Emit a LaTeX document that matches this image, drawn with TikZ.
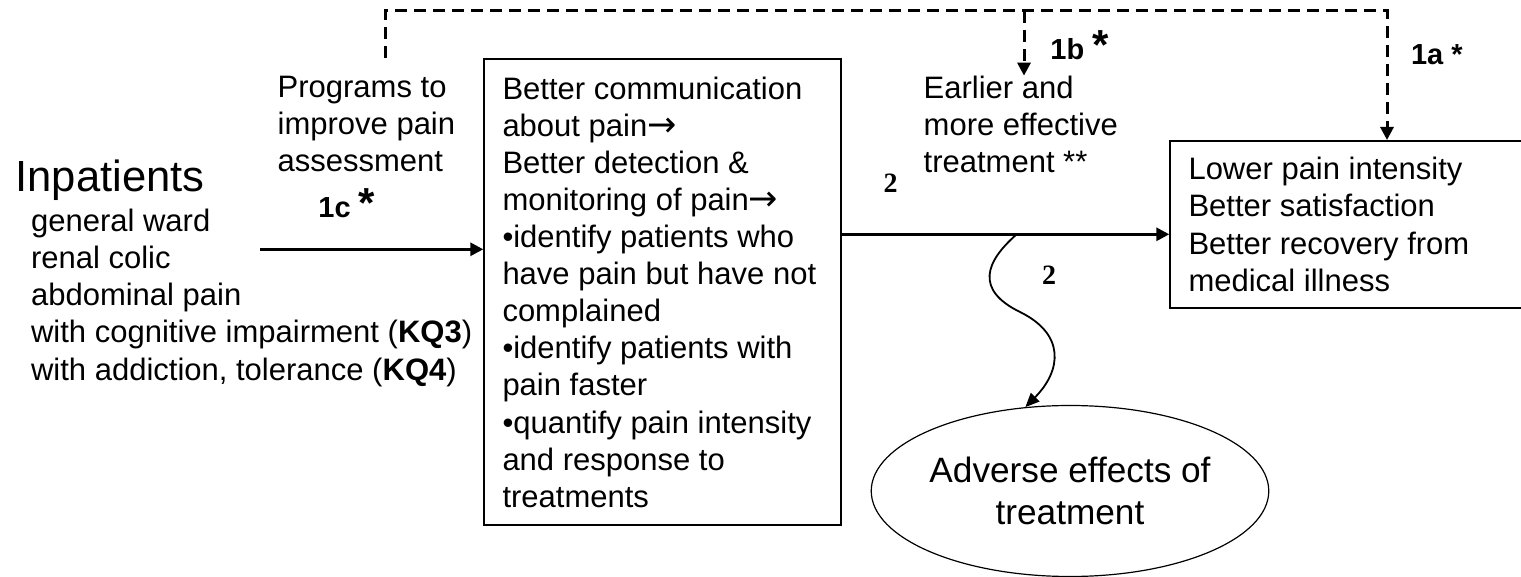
\documentclass[tikz,border=0pt]{standalone}
\usepackage{fontspec}
\setmainfont{Liberation Sans}
\newfontfamily\numfont{Liberation Serif}
\newfontfamily\symfont{DejaVu Sans}
\usetikzlibrary{arrows.meta, shapes.geometric, calc}
\newcommand\bodyfs{\fontsize{15.5pt}{18.55pt}\selectfont}
\newcommand\bigfs{\fontsize{21.8pt}{26pt}\selectfont}
\newcommand\ovalfs{\fontsize{17.6pt}{21.15pt}\selectfont}
\newcommand\kqfs{\fontsize{14.5pt}{17pt}\selectfont\bfseries}
\newcommand\starfs{\fontsize{21pt}{21pt}\selectfont}
\newcommand\rarr{{\symfont\fontsize{17.5pt}{18.55pt}\selectfont →}}
\tikzset{
  >={Triangle[length=6.5pt,width=6.5pt]},
  txt/.style={inner sep=0pt, anchor=base west, align=flush left, font=\bodyfs},
  kq/.style={inner sep=0pt, anchor=base west, font=\kqfs},
  num/.style={inner sep=0pt, anchor=base west, font=\numfont\bfseries\fontsize{14pt}{14pt}\selectfont},
  stage/.style={draw, line width=0.8pt, anchor=north west, inner xsep=9.2pt,
    inner ysep=0pt, align=flush left, font=\bodyfs},
  effect/.style={draw, ellipse, line width=0.6pt, inner sep=0pt, align=center, font=\ovalfs},
  mainarr/.style={->, line width=1.5pt},
  fb/.style={->, line width=1.5pt, dash pattern=on 6pt off 3.5pt},
  wavy/.style={-{Triangle[length=7pt,width=6pt]}, line width=0.9pt}
}

\begin{document}
\begin{tikzpicture}[x=0.5pt, y=-0.5pt]
  \useasboundingbox (0,0) rectangle (1521,577);

  % base anchor of a multi-line node = baseline of its last line
  \node[inner sep=0pt, anchor=base west, font=\bigfs] (inpat) at (15,191.7) {Inpatients};
  \node[txt] (popul) at (30.7,380) {general ward\\renal colic\\abdominal pain\\
    with cognitive impairment (\textbf{KQ3})\\with addiction, tolerance (\textbf{KQ4})};
  \node[txt] (prog) at (277.3,171.7) {Programs to\\improve pain\\assessment};
  \node[kq] (l1c) at (318,217.3) {1c {\starfs*}};

  \node[stage, text width=159.95pt, minimum width=178.35pt, minimum height=233pt]
    (detect) at (483.3,58.3) {Better communication\\about pain\rarr\\Better detection \&\\
    monitoring of pain\rarr\\•identify patients who\\have pain but have not\\complained\\
    •identify patients with\\pain faster\\•quantify pain intensity\\and response to\\treatments};

  \node[txt] (earlier) at (923.3,172.7) {Earlier and\\more effective\\treatment **};
  \node[kq] (l1b) at (1050,60) {1b {\starfs*}};
  \node[kq] (l1a) at (1410.7,65) {1a *};

  \node[stage, text width=162.5pt, minimum width=180.5pt, minimum height=83.65pt]
    (outc) at (1169.3,140) {Lower pain intensity\\Better satisfaction\\
    Better recovery from\\medical illness};

  \node[effect, minimum width=178.3pt, minimum height=85.5pt] (adv) at (1070,491)
    {Adverse effects of\\treatment};

  \node[num] (n2a) at (883.3,192.7) {2};
  \node[num] (n2b) at (1041.7,285) {2};

  \coordinate (pstart) at (260,249.3);
  \coordinate (wv) at (1016.7,234.3);
  \coordinate (ts) at (385,58);
  \coordinate (ta) at (385,11);
  \coordinate (tb) at (1024,11);
  \coordinate (tc) at (1387,11);

  \draw[mainarr] (pstart) -- (pstart -| detect.west);
  \draw[mainarr] (detect.east |- wv) -- (outc.west |- wv);
  \draw[wavy] (wv) .. controls (985,262) and (975,290) .. (1020,312)
    .. controls (1065,334) and (1062,370) .. (adv.118);

  \draw[fb] (ts) -- (ta) -- (tc) -- (tc |- outc.north);
  \draw[fb] (tb) -- (tb |- earlier.north);
\end{tikzpicture}
\end{document}
